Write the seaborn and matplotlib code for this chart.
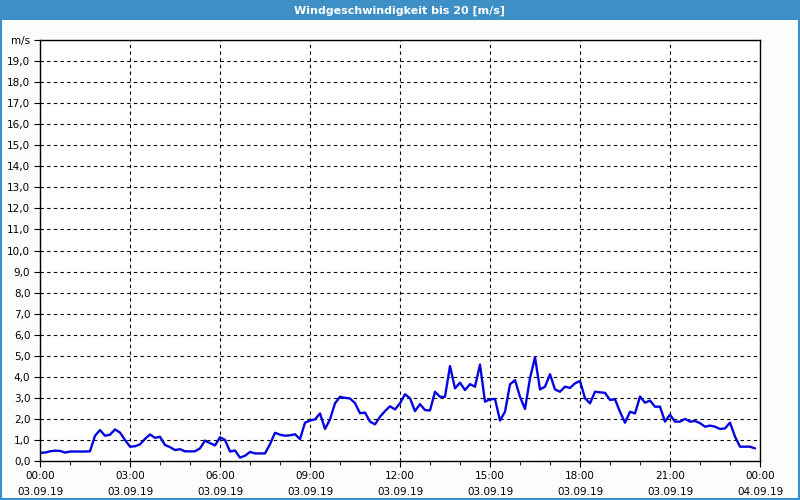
import pandas as pd
import numpy as np
import matplotlib.pyplot as plt
import matplotlib.dates as mdates
from matplotlib.patches import Rectangle
from matplotlib.ticker import FixedLocator, FixedFormatter
import seaborn as sns

# wind speed, 10-minute values, one row of six per hour (m/s)
h00 = [0.39, 0.40, 0.46, 0.49, 0.48, 0.40]
h01 = [0.45, 0.45, 0.45, 0.45, 0.46, 1.20]
h02 = [1.47, 1.20, 1.25, 1.50, 1.35, 1.00]
h03 = [0.68, 0.70, 0.79, 1.05, 1.26, 1.10]
h04 = [1.15, 0.76, 0.66, 0.52, 0.56, 0.46]
h05 = [0.46, 0.46, 0.60, 0.97, 0.85, 0.74]
h06 = [1.13, 1.00, 0.45, 0.50, 0.16, 0.25]
h07 = [0.43, 0.36, 0.36, 0.36, 0.80, 1.34]
h08 = [1.25, 1.20, 1.22, 1.27, 1.04, 1.82]
h09 = [1.92, 1.98, 2.26, 1.52, 1.98, 2.74]
h10 = [3.05, 3.00, 2.97, 2.75, 2.27, 2.30]
h11 = [1.87, 1.74, 2.10, 2.37, 2.60, 2.45]
h12 = [2.74, 3.17, 2.98, 2.37, 2.70, 2.42]
h13 = [2.40, 3.29, 3.05, 3.05, 4.51, 3.45]
h14 = [3.72, 3.37, 3.65, 3.53, 4.58, 2.82]
h15 = [2.93, 2.95, 1.92, 2.34, 3.64, 3.84]
h16 = [3.05, 2.47, 3.93, 4.93, 3.40, 3.53]
h17 = [4.12, 3.40, 3.29, 3.53, 3.47, 3.69]
h18 = [3.80, 2.98, 2.74, 3.29, 3.26, 3.24]
h19 = [2.90, 2.93, 2.34, 1.82, 2.34, 2.26]
h20 = [3.06, 2.77, 2.87, 2.58, 2.58, 1.87]
h21 = [2.20, 1.87, 1.87, 2.00, 1.87, 1.90]
h22 = [1.80, 1.63, 1.68, 1.63, 1.52, 1.55]
h23 = [1.82, 1.16, 0.68, 0.68, 0.68, 0.60]

speed = (h00 + h01 + h02 + h03 + h04 + h05 + h06 + h07 + h08 + h09 + h10 + h11
         + h12 + h13 + h14 + h15 + h16 + h17 + h18 + h19 + h20 + h21 + h22 + h23)
times = pd.date_range('2019-09-03 00:00', periods=len(speed), freq='10min')
df = pd.DataFrame({'time': times, 'speed': speed})

y_ticks = list(range(0, 21))
y_labels = [f"{v},0" for v in range(0, 20)] + ['m/s']
title = 'Windgeschwindigkeit bis 20 [m/s]'

sns.set_style('white')
plt.rcParams['font.family'] = ['DejaVu Sans']

bar_blue = '#3d8fc6'
fig = plt.figure(figsize=(8, 5), dpi=100, facecolor='#fbfdfb')
ax = fig.add_axes([0.05, 0.078, 0.90, 0.842])
ax.set_facecolor('white')

sns.lineplot(data=df, x='time', y='speed', ax=ax, color='#0505e0', linewidth=1.7)

ax.set_xlim(pd.Timestamp('2019-09-03 00:00'), pd.Timestamp('2019-09-04 00:00'))
ax.set_ylim(0, 20)
ax.xaxis.set_major_locator(mdates.HourLocator(byhour=range(0, 24, 3)))
ax.xaxis.set_minor_locator(mdates.HourLocator())
ax.xaxis.set_major_formatter(mdates.DateFormatter('%H:%M\n%d.%m.%y'))
ax.yaxis.set_major_locator(FixedLocator(y_ticks))
ax.yaxis.set_major_formatter(FixedFormatter(y_labels))

ax.grid(True, which='major', color='black', linestyle=(0, (3, 3)), linewidth=0.8)
ax.tick_params(axis='both', which='major', direction='out', length=4, width=0.8,
               labelsize=7.5, colors='black', pad=3, bottom=True, left=True)
ax.tick_params(axis='x', which='minor', direction='out', length=3, width=0.8, bottom=True)
ax.tick_params(axis='x', which='major', pad=3)
fig.canvas.draw()
for lbl in ax.get_xticklabels():
    lbl.set_linespacing(1.8)
for s in ax.spines.values():
    s.set_color('black')
    s.set_linewidth(1.0)
ax.set_xlabel('')
ax.set_ylabel('')

# title bar and frame
fig.patches.append(Rectangle((0, 0.96), 1, 0.04, transform=fig.transFigure,
                             facecolor=bar_blue, edgecolor='none', zorder=0))
fig.patches.append(Rectangle((0.001, 0.002), 0.998, 0.997, transform=fig.transFigure,
                             facecolor='none', edgecolor=bar_blue, linewidth=1.5, zorder=5))
fig.text(0.5, 0.979, title, color='white', fontsize=8, fontweight='bold',
         ha='center', va='center')

fig.savefig('out.png', dpi=100, facecolor=fig.get_facecolor())
